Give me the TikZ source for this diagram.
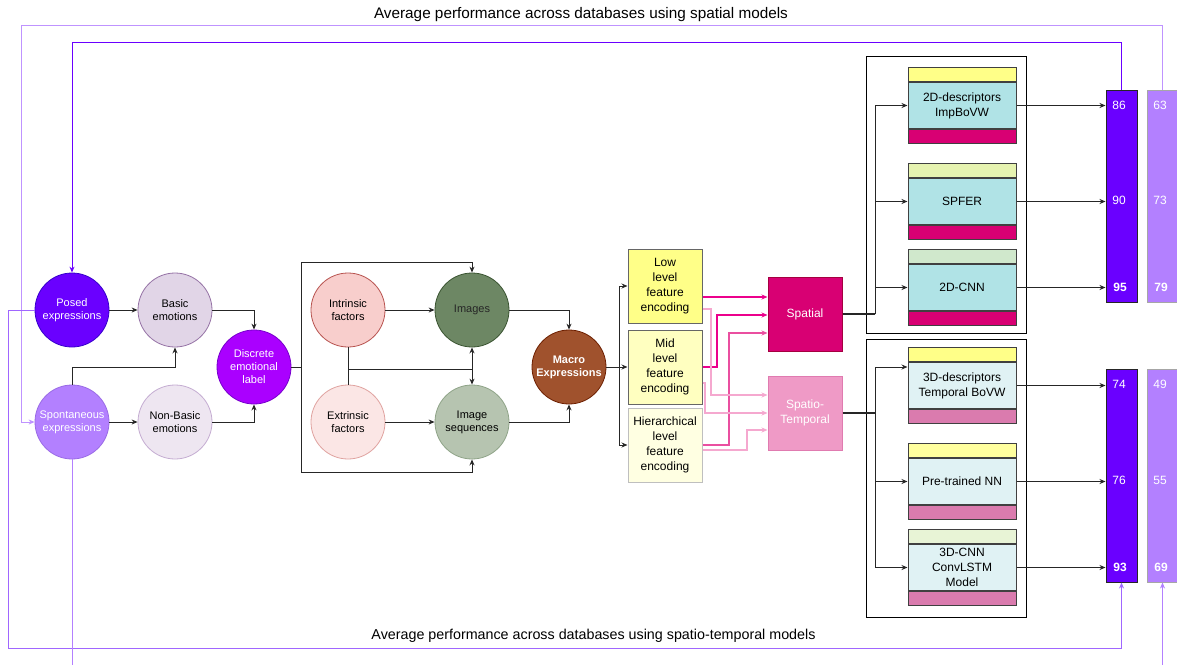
\documentclass[tikz,border=0pt]{standalone}
\usepackage{fontspec}
\setmainfont{Liberation Sans}
\usetikzlibrary{arrows.meta,calc}
\definecolor{posedF}{HTML}{6A00FF}\definecolor{posedD}{HTML}{3700CC}
\definecolor{spontF}{HTML}{B380FF}\definecolor{spontD}{HTML}{9A6BE6}
\definecolor{basicF}{HTML}{E1D5E7}\definecolor{basicD}{HTML}{9673A6}
\definecolor{nbasF}{HTML}{EEE6F1}\definecolor{nbasD}{HTML}{C5ADD2}
\definecolor{discF}{HTML}{AA00FF}\definecolor{discD}{HTML}{7700CC}
\definecolor{intrF}{HTML}{F8CECC}\definecolor{intrD}{HTML}{B85450}
\definecolor{extrF}{HTML}{FBE6E5}\definecolor{extrD}{HTML}{E0A3A0}
\definecolor{imgF}{HTML}{6D8764}\definecolor{imgD}{HTML}{3A5431}
\definecolor{seqF}{HTML}{B6C4B0}\definecolor{seqD}{HTML}{8FA488}
\definecolor{macF}{HTML}{A0522D}\definecolor{macD}{HTML}{6D1F00}
\definecolor{lowF}{HTML}{FFFF88}\definecolor{midF}{HTML}{FFFFC0}\definecolor{hierF}{HTML}{FFFFE2}
\definecolor{spatF}{HTML}{D80073}\definecolor{spatD}{HTML}{A50040}
\definecolor{stF}{HTML}{EF9AC6}\definecolor{stD}{HTML}{E07BB0}
\definecolor{cyanF}{HTML}{B0E3E6}\definecolor{lcyanF}{HTML}{E0F2F4}
\definecolor{mag}{HTML}{D80073}\definecolor{lmag}{HTML}{DA7BAE}
\definecolor{ylw}{HTML}{FFFF88}\definecolor{ygr}{HTML}{E6F3B0}\definecolor{lgr}{HTML}{D0E8CC}
\definecolor{ylw2}{HTML}{FFFF9E}\definecolor{vlgr}{HTML}{E8F4D6}
\definecolor{pinkA}{HTML}{EC008C}\definecolor{pinkB}{HTML}{EA4FA0}\definecolor{pinkC}{HTML}{F5A8CF}
\definecolor{fbdark}{HTML}{6A00FF}\definecolor{fblight}{HTML}{BF93FF}
\definecolor{fbmid}{HTML}{A066FF}\definecolor{fbl2}{HTML}{B380FF}
\newcommand{\modbox}[6]{%
  \node[strip, fill=#3, anchor=north] (#1t) at (962,#2) {};
  \node[midbox, fill=#5, anchor=north] (#1) at (#1t.south) {#6};
  \node[strip, fill=#4, anchor=north] (#1b) at (#1.south) {};
}
\begin{document}
\begin{tikzpicture}[x=1pt,y=-1pt,
  >={Stealth[length=6pt,width=5pt]},
  circ/.style={circle, minimum size=74pt, inner sep=0pt, align=center, line width=0.8pt, font=\fontsize{11}{13}\selectfont},
  sq/.style={rectangle, minimum width=74pt, minimum height=74pt, inner sep=0pt, align=center, line width=1pt, font=\fontsize{12}{15}\selectfont},
  strip/.style={rectangle, minimum width=108pt, minimum height=14pt, inner sep=0pt, draw=black!75, line width=1pt},
  midbox/.style={rectangle, minimum width=108pt, minimum height=46pt, inner sep=0pt, draw=black!75, line width=1pt, align=center, font=\fontsize{12}{15}\selectfont},
  bar/.style={rectangle, minimum width=31pt, inner sep=0pt, line width=1pt},
  num/.style={text=white, font=\fontsize{12}{14}\selectfont},
  conn/.style={draw=black!85, line width=1pt},
  pconn/.style={line width=1.2pt, draw=#1},
]
\useasboundingbox (0,0) rectangle (1177,664);
\fill[white] (0,0) rectangle (1177,664);

% titles
\node[font=\fontsize{15.3}{18}\selectfont] (t1) at (581,15) {Average performance across databases using spatial models};
\node[font=\fontsize{14.3}{17}\selectfont] (t2) at (593.5,636) {Average performance across databases using spatio-temporal models};

% emotion circles
\node[circ, fill=posedF, draw=posedD, text=white] (posed) at (72,310) {Posed\\expressions};
\node[circ, fill=basicF, draw=basicD] (basic) at (175,310) {Basic\\emotions};
\node[circ, fill=spontF, draw=spontD, text=white] (spont) at (72,422) {Spontaneous\\expressions};
\node[circ, fill=nbasF, draw=nbasD] (nbas) at (175,422) {Non-Basic\\emotions};
\node[circ, fill=discF, draw=discD, text=white] (disc) at (254,367) {Discrete\\emotional\\label};

\node[circ, fill=intrF, draw=intrD] (intr) at (348,310) {Intrinsic\\factors};
\node[circ, fill=extrF, draw=extrD] (extr) at (348,422) {Extrinsic\\factors};
\node[circ, fill=imgF, draw=imgD, text=black!85] (img) at (472,310) {Images};
\node[circ, fill=seqF, draw=seqD] (seq) at (472,422) {Image\\sequences};
\node[circ, fill=macF, draw=macD, text=white, font=\bfseries\fontsize{11}{13}\selectfont] (mac) at (569,367) {Macro\\Expressions};

% feature encoding boxes
\node[sq, fill=lowF, draw=black!60] (low) at (665,286) {Low\\level\\feature\\encoding};
\node[sq, fill=midF, draw=black!60] (mid) at (665,367) {Mid\\level\\feature\\encoding};
\node[sq, fill=hierF, draw=black!25] (hier) at (665,445) {Hierarchical\\level\\feature\\encoding};

\node[sq, fill=spatF, draw=spatD, text=white] (spat) at (805,314) {Spatial};
\node[sq, fill=stF, draw=stD, text=white] (st) at (805,413) {Spatio-\\Temporal};

% groups
\draw[line width=1pt] (866,56) rectangle (1026,333);
\draw[line width=1pt] (866,339) rectangle (1026,617);

% model boxes
\modbox{ma}{67}{ylw}{mag}{cyanF}{2D-descriptors\\ImpBoVW}
\modbox{mb}{163}{ygr}{mag}{cyanF}{SPFER}
\modbox{mc}{249}{lgr}{mag}{cyanF}{2D-CNN}
\modbox{md}{347}{ylw}{lmag}{lcyanF}{3D-descriptors\\Temporal BoVW}
\modbox{me}{443}{ylw2}{lmag}{lcyanF}{Pre-trained NN}
\modbox{mf}{529}{vlgr}{lmag}{lcyanF}{3D-CNN\\ConvLSTM\\Model}

% bars
\node[bar, minimum height=212pt, fill=posedF, draw=black!85] (b1) at (1121.5,196) {};
\node[bar, minimum height=212pt, fill=spontF, draw=black!35] (b2) at (1162.5,196) {};
\node[bar, minimum height=213pt, fill=posedF, draw=black!85] (b3) at (1121.5,475.5) {};
\node[bar, minimum height=213pt, fill=spontF, draw=black!35] (b4) at (1162.5,475.5) {};

\node[num] (n1) at (1119,105) {86};
\node[num] (n2) at (1119,200) {90};
\node[num, font=\bfseries\fontsize{12}{14}\selectfont] (n3) at (1120,287) {95};
\node[num] (n4) at (1160,105) {63};
\node[num] (n5) at (1160,200) {73};
\node[num, font=\bfseries\fontsize{12}{14}\selectfont] (n6) at (1161,287) {79};
\node[num] (n7) at (1119,384) {74};
\node[num] (n8) at (1119,480) {76};
\node[num, font=\bfseries\fontsize{12}{14}\selectfont] (n9) at (1120,567) {93};
\node[num] (n10) at (1160,384) {49};
\node[num] (n11) at (1160,480) {55};
\node[num, font=\bfseries\fontsize{12}{14}\selectfont] (n12) at (1161,567) {69};

% emotion connectors
\draw[conn,->] (posed) -- (basic);
\draw[conn,->] (spont) -- (nbas);
\draw[conn,->] (basic.east) -| (disc.north);
\draw[conn,->] (nbas.east) -| (disc.south);
\draw[conn,->] (spont.north) |- ($(basic.south)+(0,20)$) -- (basic.south);

% discrete to images
\coordinate (dj) at (301,367);
\draw[conn] (disc.east) -- (dj);
\draw[conn,->] (dj) |- (img.north |- 0,262) -- (img.north);
\draw[conn,->] (dj) |- (seq.south |- 0,472) -- (seq.south);
\draw[conn,->] (intr) -- (img);
\draw[conn,->] (extr) -- (seq);
\draw[conn] (intr.south) -- (extr.north);
\coordinate (ij) at (472,369);
\draw[conn] (intr.south |- ij) -- (ij);
\draw[conn,->] (ij) -- (img.south);
\draw[conn,->] (ij) -- (seq.north);
\draw[conn,->] (img.east) -| (mac.north);
\draw[conn,->] (seq.east) -| (mac.south);

% macro to boxes
\coordinate (mj) at (619,367);
\draw[conn] (mac.east) -- (mj);
\draw[conn,->] (mj) |- (low.west);
\draw[conn,->] (mj) -- (mid.west);
\draw[conn,->] (mj) |- (hier.west);

% pink connectors
\draw[pconn=pinkA, ->] (low.east |- 0,297) -- (spat.west |- 0,297);
\draw[pconn=pinkA, ->] (mid.east |- 0,367) -- (717,367) -- (717,315) -- (spat.west |- 0,315);
\draw[pconn=pinkB, ->] (hier.east |- 0,445) -- (729,445) -- (729,333) -- (spat.west |- 0,333);
\draw[pconn=pinkC, ->] (low.east |- 0,309) -- (711,309) -- (711,395) -- (st.west |- 0,395);
\draw[pconn=pinkC, ->] (mid.east |- 0,383) -- (705,383) -- (705,413) -- (st.west |- 0,413);
\draw[pconn=pinkC, ->] (hier.east |- 0,450) -- (747,450) -- (747,430) -- (st.west |- 0,430);

% spatial bus
\coordinate (sb) at (875,314);
\draw[conn, line width=2pt] (spat.east) -- (sb);
\draw[conn,->] (sb) |- (ma.west);
\draw[conn,->] (sb) |- (mb.west);
\draw[conn,->] (sb) |- (mc.west);
% spatio-temporal bus
\coordinate (tb) at (875,413);
\draw[conn, line width=2pt] (st.east) -- (tb);
\draw[conn,->] (tb) |- ($(md.north west)+(0,5)$);
\draw[conn,->] (tb) |- (me.west);
\draw[conn,->] (tb) |- (mf.west);

% models to bars
\draw[conn,->] (ma.east) -- (ma.east -| b1.west);
\draw[conn,->] (mb.east) -- (mb.east -| b1.west);
\draw[conn,->] (mc.east) -- (mc.east -| b1.west);
\draw[conn,->] (md.east) -- (md.east -| b3.west);
\draw[conn,->] (me.east) -- (me.east -| b3.west);
\draw[conn,->] (mf.east) -- (mf.east -| b3.west);

% feedback loops
\draw[fbdark, line width=1pt, ->] (b1.north) -- ++(0,-47) -| (posed.north);
\draw[fblight, line width=1pt, ->] (b2.north) |- (21,25) |- (spont.west);
\draw[fbmid, line width=1pt, ->] (posed.west) -| (8,648) -| (b3.south);
\draw[fbl2, line width=0.8pt, ->] (spont.south) -- (72,700) -| (b4.south);
\end{tikzpicture}
\end{document}
